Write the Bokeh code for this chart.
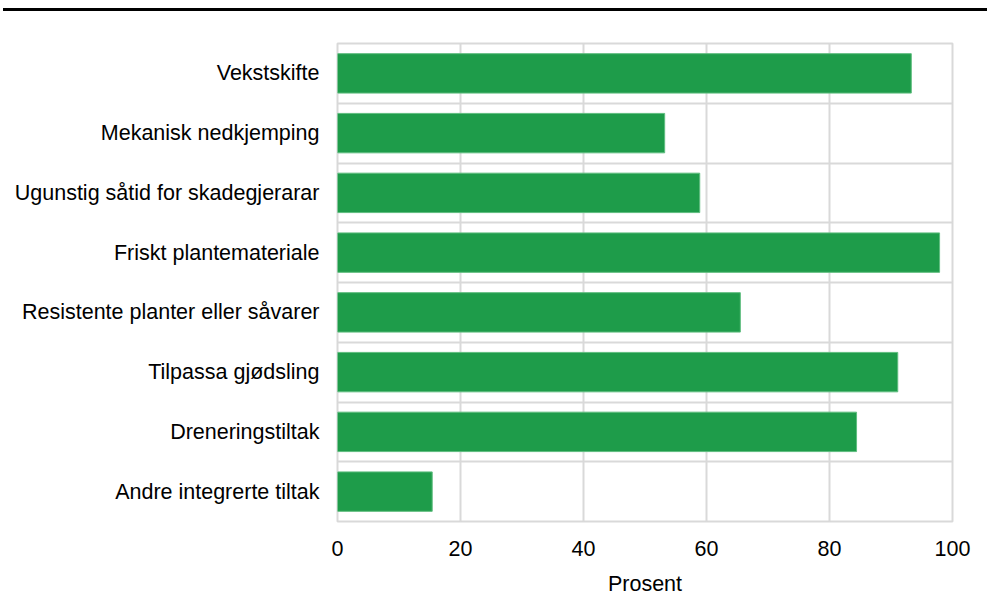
from bokeh.plotting import figure
from bokeh.models import Range1d, FixedTicker, Div
from bokeh.layouts import column
from bokeh.embed import file_html
from bokeh.resources import INLINE

categories = ["Vekstskifte", "Mekanisk nedkjemping", "Ugunstig såtid for skadegjerarar",
              "Friskt plantemateriale", "Resistente planter eller såvarer",
              "Tilpassa gjødsling", "Dreneringstiltak", "Andre integrerte tiltak"]
values = [93.3, 53.2, 58.9, 97.9, 65.5, 91.1, 84.4, 15.4]
x_ticks = [0, 20, 40, 60, 80, 100]

n = len(categories)
ypos = [n - 0.5 - i for i in range(n)]

p = figure(width=979, height=587, output_backend="svg", toolbar_location=None,
           x_range=Range1d(0, 100), y_range=Range1d(0, n),
           min_border_left=337, min_border_right=27, min_border_top=32, min_border_bottom=75,
           margin=0)
p.background_fill_color = "white"
p.border_fill_color = "white"
p.outline_line_color = "#d9d9d9"
p.outline_line_width = 2

p.hbar(y=ypos, right=values, left=0, height=0.66, fill_color="#1e9c4a",
       line_color="#5fbd7f", line_width=1)

p.xaxis.ticker = FixedTicker(ticks=x_ticks)
p.yaxis.ticker = FixedTicker(ticks=ypos)
p.yaxis.major_label_overrides = {y: c for y, c in zip(ypos, categories)}
p.ygrid.ticker = FixedTicker(ticks=list(range(n + 1)))
p.xgrid.ticker = FixedTicker(ticks=x_ticks)
for g in (p.xgrid, p.ygrid):
    g.grid_line_color = "#d9d9d9"
    g.grid_line_width = 2

for ax in (p.xaxis, p.yaxis):
    ax.axis_line_color = None
    ax.major_tick_line_color = None
    ax.minor_tick_line_color = None
    ax.major_tick_out = 0
    ax.major_tick_in = 0
    ax.minor_tick_out = 0
    ax.major_label_text_font = "Liberation Sans"
    ax.major_label_text_font_size = "21.5px"
    ax.major_label_text_color = "black"

p.yaxis.major_label_standoff = 18
p.xaxis.major_label_standoff = 19
p.xaxis.axis_label = "Prosent"
p.xaxis.axis_label_text_font = "Liberation Sans"
p.xaxis.axis_label_text_font_size = "21.5px"
p.xaxis.axis_label_text_font_style = "normal"
p.xaxis.axis_label_text_color = "black"
p.xaxis.axis_label_standoff = 13

bar = Div(text="", width=984, height=3, margin=(8, 0, 0, 3),
          styles={"background-color": "black"})
layout = column(bar, p, spacing=0, margin=0)

open("out.html", "w").write(file_html(layout, INLINE))
